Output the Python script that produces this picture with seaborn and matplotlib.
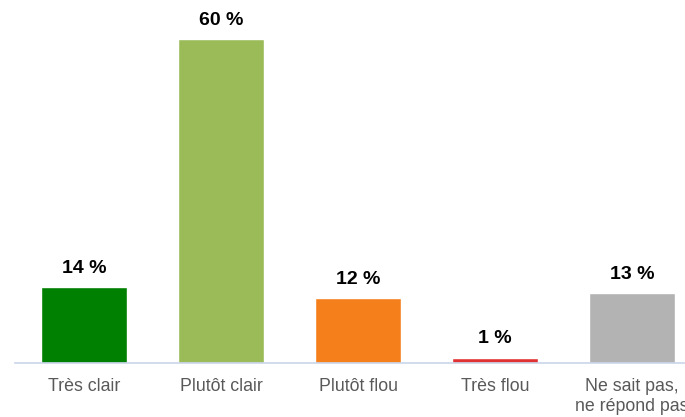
import pandas as pd
import matplotlib
matplotlib.use('Agg')
import matplotlib.pyplot as plt
import seaborn as sns

categories = ['Très clair', 'Plutôt clair', 'Plutôt flou', 'Très flou', 'Ne sait pas,\nne répond pas']
values = [14, 60, 12, 1, 13]
colors = ['#008000', '#9BBB59', '#F47F1B', '#E03232', '#B3B3B3']

df = pd.DataFrame({'cat': categories, 'val': values})

sns.set_style('white')
plt.rcParams['font.family'] = ['Liberation Sans', 'DejaVu Sans']

fig = plt.figure(figsize=(6.85, 4.17), dpi=100)
ax = fig.add_axes([15 / 685, 54 / 417, 670 / 685, (363 - 6.6) / 417])

sns.barplot(data=df, x='cat', y='val', hue='cat', palette=colors, legend=False,
            width=0.628, saturation=1, ax=ax)

for i, v in enumerate(values):
    ax.annotate(f'{v} %', (i, v), xytext=(0, 13.5), textcoords='offset points',
                ha='center', va='center', fontsize=14, fontweight='bold', color='black')

ax.set_xlim(-0.504, 4.387)
ax.set_ylim(0, 66)
ax.set_xlabel('')
ax.set_ylabel('')
ax.set_yticks([])
for s in ['top', 'right', 'left']:
    ax.spines[s].set_visible(False)
ax.spines['bottom'].set_color('#C9D5EA')
ax.spines['bottom'].set_linewidth(1.2)
ax.tick_params(axis='x', length=0, pad=11, labelsize=12.8, labelcolor='#595959')
for lbl in ax.get_xticklabels():
    lbl.set_va('top')
    lbl.set_linespacing(1.2)

fig.savefig('out.png', dpi=100)
